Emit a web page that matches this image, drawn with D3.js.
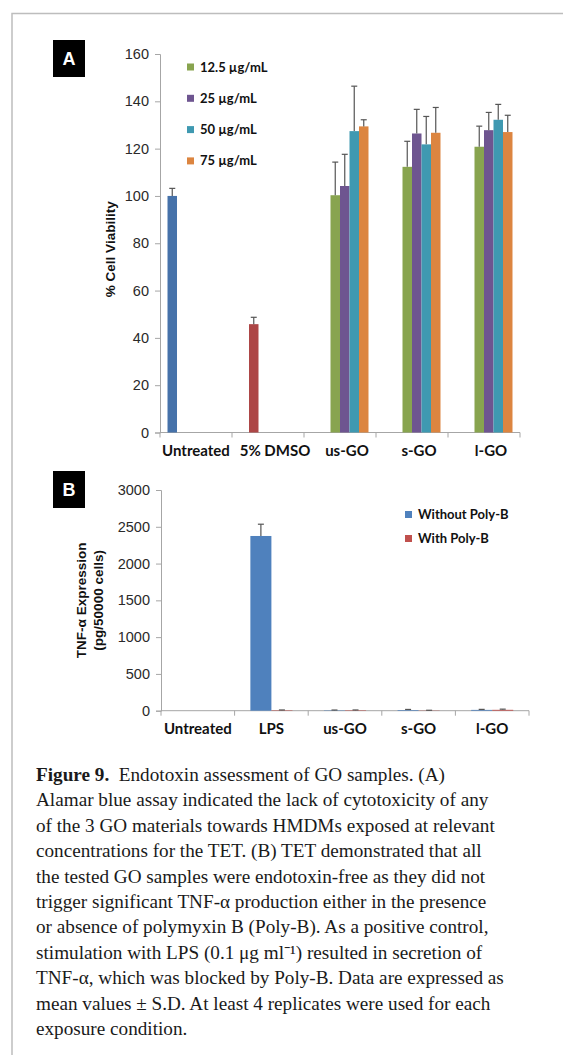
<!DOCTYPE html>
<html>
<head>
<meta charset="utf-8">
<script src="https://cdn.jsdelivr.net/npm/d3@7"></script>
<style>
  body { margin: 0; background: #fff; }
  svg text { font-family: "Liberation Sans", Arial, sans-serif; }
  .lbl { font-family: Lato, "Open Sans", sans-serif !important; font-weight: bold; fill: #111; }
  .cap { font-family: "Liberation Serif", "Times New Roman", serif !important; fill: #1a1a1a; }
</style>
</head>
<body>
<script>
// ---- panel A data (% cell viability) ----
const catsA = ["Untreated", "5% DMSO", "us-GO", "s-GO", "l-GO"];
// six excel series: untreated, dmso, then 4 GO concentrations
const seriesA = ["ctrl", "dmso", "12.5 µg/mL", "25 µg/mL", "50 µg/mL", "75 µg/mL"];
const colorsA = ["#4672aa", "#ad4646", "#88a44f", "#6e5590", "#3f99b1", "#dc8540"];
const meanA = [
  [100, null, null, null, null, null],
  [null, 45.8, null, null, null, null],
  [null, null, 100.3, 104.2, 127.4, 129.4],
  [null, null, 112.3, 126.4, 121.8, 126.7],
  [null, null, 120.8, 127.8, 132.2, 127.0]
];
const sdA = [
  [3.2, 0, 0, 0, 0, 0],
  [0, 2.9, 0, 0, 0, 0],
  [0, 0, 14.0, 13.4, 19.0, 2.8],
  [0, 0, 10.8, 10.2, 11.8, 10.7],
  [0, 0, 8.7, 7.5, 6.5, 7.1]
];
const ticksA = [0, 20, 40, 60, 80, 100, 120, 140, 160];

// ---- panel B data (TNF-a) ----
const catsB = ["Untreated", "LPS", "us-GO", "s-GO", "l-GO"];
const seriesB = ["Without Poly-B", "With Poly-B"];
const colorsB = ["#4f81bd", "#c0504d"];
const meanB = [
  [0, 0],
  [2375, 6],
  [5, 6],
  [9, 3],
  [11, 12]
];
const sdB = [
  [0, 0],
  [160, 4],
  [4, 4],
  [8, 3],
  [7, 9]
];
const ticksB = [0, 500, 1000, 1500, 2000, 2500, 3000];

const captionLines = [
  ["Figure 9.", "  Endotoxin assessment of GO samples. (A)"],
  ["", "Alamar blue assay indicated the lack of cytotoxicity of any"],
  ["", "of the 3 GO materials towards HMDMs exposed at relevant"],
  ["", "concentrations for the TET. (B) TET demonstrated that all"],
  ["", "the tested GO samples were endotoxin-free as they did not"],
  ["", "trigger significant TNF-α production either in the presence"],
  ["", "or absence of polymyxin B (Poly-B). As a positive control,"],
  ["", "stimulation with LPS (0.1 μg ml⁻¹) resulted in secretion of"],
  ["", "TNF-α, which was blocked by Poly-B. Data are expressed as"],
  ["", "mean values ± S.D. At least 4 replicates were used for each"],
  ["", "exposure condition."]
];

const W = 563, H = 1055;
const svg = d3.select("body").append("svg").attr("width", W).attr("height", H);

// page frame
svg.append("path").attr("d", `M12,${H} V13.5 H${W}`)
  .attr("fill", "none").attr("stroke", "#bdbdbd").attr("stroke-width", 1.5);

const axisCol = "#a6a6a6";

function panel(o) {
  const g = svg.append("g");
  const x = d3.scaleBand().domain(o.cats).range(o.xr);
  const xi = d3.scaleBand().domain(o.series).range([0, x.bandwidth()]).paddingOuter(o.pad);
  const y = d3.scaleLinear().domain(o.ydom).range(o.yr);

  // y axis
  const ya = g.append("g").attr("transform", `translate(${o.xr[0]},0)`)
    .call(d3.axisLeft(y).tickValues(o.ticks).tickFormat(d3.format("d")).tickSize(5).tickPadding(6));
  ya.select(".domain").attr("stroke", axisCol);
  ya.selectAll(".tick line").attr("stroke", axisCol);
  ya.selectAll(".tick text").attr("font-size", 14.5).attr("fill", "#2a2a2a")
    .attr("font-family", "Liberation Sans, Arial, sans-serif");

  // x axis (excel style: ticks between categories)
  const xa = g.append("g").attr("transform", `translate(0,${o.yr[0]})`);
  xa.append("line").attr("x1", o.xr[0]).attr("x2", o.xr[1])
    .attr("stroke", axisCol);
  const edges = o.cats.map(c => x(c)).concat([o.xr[1]]);
  xa.selectAll("line.t").data(edges).join("line").attr("class", "t")
    .attr("x1", d => d).attr("x2", d => d).attr("y1", 0).attr("y2", 5)
    .attr("stroke", axisCol);
  xa.selectAll("text").data(o.cats).join("text").attr("class", "lbl")
    .attr("x", d => x(d) + x.bandwidth() / 2 + (o.lblShift || 0) * (d === o.cats[0] ? 0 : 1))
    .attr("y", 23.5).attr("text-anchor", "middle").attr("font-size", 15)
    .text(d => d);

  // bars
  o.mean.forEach((row, ci) => {
    row.forEach((v, si) => {
      if (v == null) return;
      const bx = x(o.cats[ci]) + xi(o.series[si]);
      const bw = xi.bandwidth();
      g.append("rect").attr("x", bx).attr("y", y(v)).attr("width", bw)
        .attr("height", y(0) - y(v)).attr("fill", o.colors[si]);
      const e = o.sd[ci][si];
      if (e > 0) {
        const cx = bx + bw / 2;
        g.append("line").attr("x1", cx).attr("x2", cx)
          .attr("y1", y(v)).attr("y2", y(v + e)).attr("stroke", "#555").attr("stroke-width", 1.2);
        g.append("line").attr("x1", cx - 3).attr("x2", cx + 3)
          .attr("y1", y(v + e)).attr("y2", y(v + e)).attr("stroke", "#555").attr("stroke-width", 1.2);
      }
    });
  });

  // y label
  const yl = g.append("text").attr("font-weight", "bold").attr("font-size", 13.5).attr("fill", "#111")
    .attr("text-anchor", "middle")
    .attr("transform", `translate(${o.ylX},${(o.yr[0] + o.yr[1]) / 2 + (o.ylDy || 0)}) rotate(-90)`);
  o.ylab.forEach((t, i) => yl.append("tspan").attr("x", 0).attr("dy", i === 0 ? 0 : 17).text(t));

  // legend
  const lg = g.append("g");
  o.legend.forEach((s, i) => {
    const ly = o.legY + i * o.legStep;
    lg.append("rect").attr("x", o.legX).attr("y", ly - 3.5).attr("width", 7).attr("height", 7)
      .attr("fill", o.legColors[i]);
    lg.append("text").attr("class", "lbl").attr("x", o.legX + 13).attr("y", ly + 4.5)
      .attr("font-size", 13).text(s);
  });

  // panel letter
  g.append("rect").attr("x", 53).attr("y", o.letterY).attr("width", 32).attr("height", 37).attr("fill", "#000");
  g.append("text").attr("x", 69).attr("y", o.letterY + 25).attr("text-anchor", "middle")
    .attr("font-size", 18).attr("font-weight", "bold").attr("fill", "#fff")
    .attr("font-family", "Lato, sans-serif").text(o.letter);
}

panel({
  cats: catsA, series: seriesA, colors: colorsA, mean: meanA, sd: sdA,
  xr: [160, 520], yr: [432.5, 54], ydom: [0, 160], ticks: ticksA, pad: 0.79,
  lblShift: 7, ylX: 115, ylDy: 6, ylab: ["% Cell Viability"],
  legend: seriesA.slice(2), legColors: colorsA.slice(2), legX: 187, legY: 67, legStep: 31.3,
  letter: "A", letterY: 40
});

panel({
  cats: catsB, series: seriesB, colors: colorsB, mean: meanB, sd: sdB,
  xr: [161, 529], yr: [710.7, 490], ydom: [0, 3000], ticks: ticksB, pad: 0.75,
  ylX: 86, ylDy: 0, ylab: ["TNF-α Expression", "(pg/50000 cells)"],
  legend: seriesB, legColors: colorsB, legX: 405, legY: 514.5, legStep: 24,
  letter: "B", letterY: 471
});

// caption
const cap = svg.append("text").attr("class", "cap").attr("font-size", 19.2);
captionLines.forEach((ln, i) => {
  const t = cap.append("tspan").attr("x", 36).attr("y", 781 + i * 25.4);
  if (ln[0]) t.append("tspan").attr("font-weight", "bold").text(ln[0]);
  t.append("tspan").attr("xml:space", "preserve").text(ln[1]);
});
</script>
</body>
</html>
